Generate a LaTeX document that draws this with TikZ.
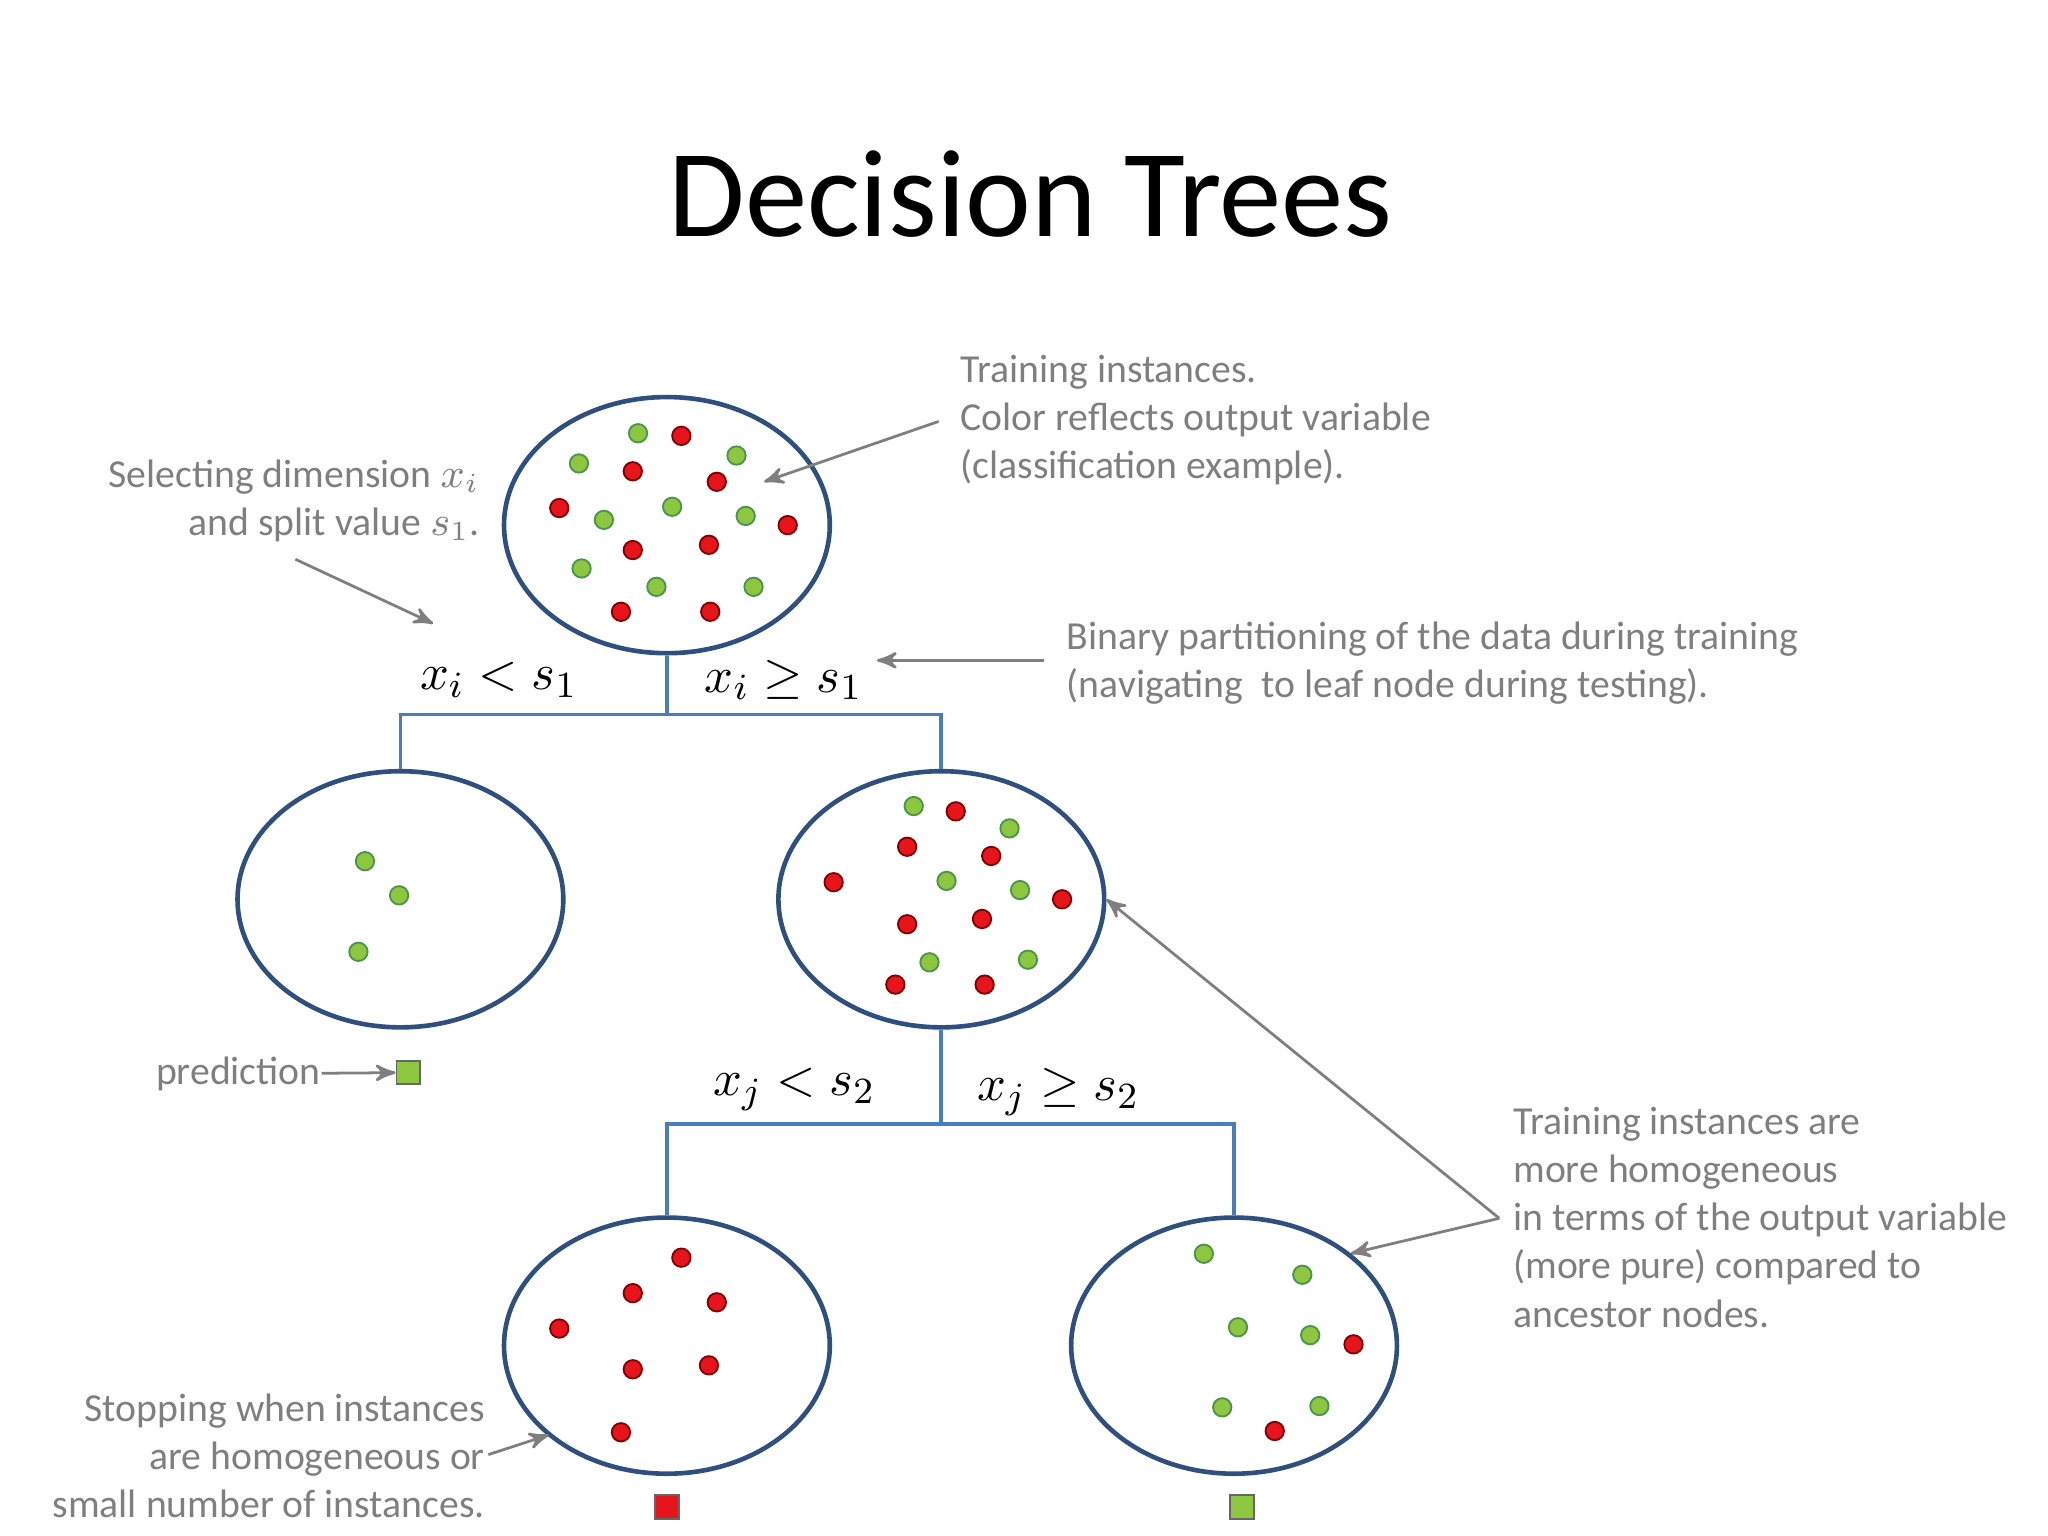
\documentclass[tikz,border=0pt]{standalone}
\usepackage{fontspec}
\setmainfont{Carlito}
\usetikzlibrary{arrows,shapes,positioning}
\definecolor{dotgreen}{HTML}{8DC63F}
\definecolor{dotred}{HTML}{E8141B}
\definecolor{ringblue}{HTML}{2F4F7F}
\definecolor{treeblue}{HTML}{4A7EBB}
\definecolor{notegray}{HTML}{7F7F7F}
\begin{document}
\begin{tikzpicture}[x=0.01cm,y=-0.01cm,>=stealth']
  \tikzstyle{set}=[ellipse,draw=ringblue,line width=1pt,minimum width=2.48cm,minimum height=1.95cm]
  \tikzstyle{g}=[circle,draw=green!40!black!70,fill=dotgreen,inner sep=0pt,minimum size=1.4mm]
  \tikzstyle{r}=[circle,draw=red!50!black,fill=dotred,inner sep=0pt,minimum size=1.4mm]
  \tikzstyle{branch}=[draw=treeblue,line width=0.8pt]
  \tikzstyle{cond}=[font=\fontsize{11}{13}\selectfont]
  \tikzstyle{note}=[text=notegray,font=\fontsize{8.6}{10.4}\selectfont,inner sep=0pt]
  \tikzstyle{pointer}=[->,draw=notegray,line width=0.6pt]
  \tikzstyle{leaf}=[rectangle,draw=black!60,inner sep=0pt,minimum size=1.8mm]

  \useasboundingbox (0,0) rectangle (1560,1170);

  % title
  \node (title) at (785,148) {\fontsize{27}{30}\selectfont Decision Trees};

  % tree nodes
  \node [set] (root) at (508,400) {};
  \node [set] (lft)  at (305,685) {};
  \node [set] (mid)  at (717,685) {};
  \node [set] (bl)   at (508,1025) {};
  \node [set] (br)   at (940,1025) {};

  % branches
  \path [branch] (root.south) -- ++(0,45) -| (lft.north);
  \path [branch] (root.south) ++(0,45) -| (mid.north);
  \path [branch] (mid.south) -- ++(0,72) -| (bl.north);
  \path [branch] (mid.south) ++(0,72) -| (br.north);
  \node [cond] (c1) at (380,518) {$x_i < s_1$};
  \node [cond] (c2) at (597,518) {$x_i \geq s_1$};
  \node [cond] (c3) at (605,830) {$x_j < s_2$};
  \node [cond] (c4) at (806,832) {$x_j \geq s_2$};

  % instances
  \foreach \p in {(486,330),(441,353),(561,347),(512,386),(460,396),(568,393),(443,433),(500,447),(574,447),
                  (278,656),(304,682),(273,725),
                  (696,614),(769,631),(721,671),(777,678),(708,733),(783,731),
                  (917,955),(992,971),(943,1011),(998,1017),(931,1072),(1005,1071)}
    \node [g] at \p {};
  \foreach \p in {(519,332),(482,359),(546,367),(426,387),(600,400),(482,419),(540,415),(473,466),(541,466),
                  (728,618),(691,645),(755,652),(635,672),(809,685),(691,704),(748,700),(682,750),(750,750),
                  (519,958),(482,985),(546,992),(426,1012),(482,1043),(540,1040),(473,1091),
                  (1031,1024),(971,1090)}
    \node [r] at \p {};

  % leaves
  \node [leaf,fill=dotgreen] (predsq) at (311,817) {};
  \node [leaf,fill=dotred]   (redsq)  at (508,1148) {};
  \node [leaf,fill=dotgreen] (grnsq)  at (946,1148) {};

  % notes
  \node [note,anchor=north west,align=left] (train) at (731,270)
    {Training instances.\\Color reflects output variable\\(classification example).};
  \node [note,anchor=north east,align=right] (select) at (366,350)
    {Selecting dimension $x_i$\\and split value $s_1$.};
  \node [note,anchor=north west,align=left] (binary) at (812,473)
    {Binary partitioning of the data during training\\(navigating\ \ to leaf node during testing).};
  \node [note,anchor=east] (pred) at (245,818) {prediction};
  \node [note,anchor=north west,align=left] (pure) at (1152,843)
    {Training instances are\\more homogeneous\\in terms of the output variable\\(more pure) compared to\\ancestor nodes.};
  \node [note,anchor=north east,align=right] (stop) at (370,1061)
    {Stopping when instances\\are homogeneous or\\small number of instances.};

  \coordinate (trainfrom) at (715,321);
  \coordinate (trainto) at (582,367);
  \coordinate (selfrom) at (225,426);
  \coordinate (selto) at (330,475);
  \coordinate (binfrom) at (795,503);
  \coordinate (binto) at (668,503);
  \coordinate (purefrom) at (1142,928);
  \coordinate (stopfrom) at (372,1108);
  \coordinate (stopto) at (418,1093);

  \path [pointer] (trainfrom) -- (trainto);
  \path [pointer] (selfrom) -- (selto);
  \path [pointer] (binfrom) -- (binto);
  \path [pointer] (pred) -- (predsq);
  \path [pointer] (purefrom) -- (mid.east);
  \path [pointer] (purefrom) -- (br.north east);
  \path [pointer] (stopfrom) -- (stopto);
\end{tikzpicture}
\end{document}
